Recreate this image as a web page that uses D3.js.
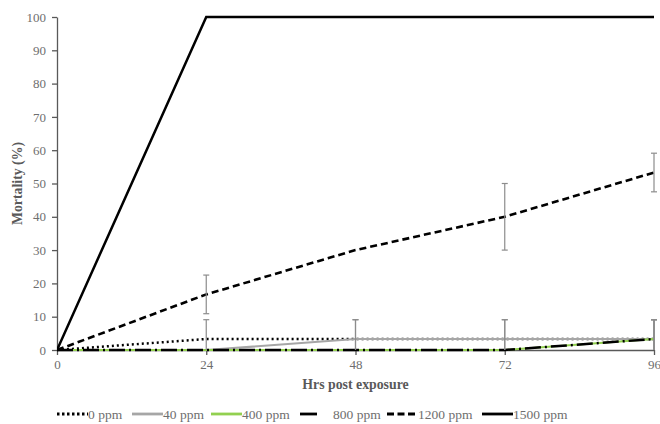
<!DOCTYPE html>
<html>
  <head>
    <meta charset="utf-8">
    <script src="https://d3js.org/d3.v7.min.js"></script>
    <style>
        body { margin:0; background:#fff; }
        svg { display:block; }
    </style>
  </head>
  <body>
    <script>
      // data
      var hours = [0, 24, 48, 72, 96];
      var yTicks = [0, 10, 20, 30, 40, 50, 60, 70, 80, 90, 100];
      var seriesNames = ["0 ppm", "40 ppm", "400 ppm", "800 ppm", "1200 ppm", "1500 ppm"];
      var ppm0    = [0, 3.3, 3.3, 3.3, 3.3];
      var ppm40   = [0, 0, 3.3, 3.3, 3.3];
      var ppm400  = [0, 0, 0, 0, 3.3];
      var ppm800  = [0, 0, 0, 0, 3.3];
      var ppm1200 = [0, 16.7, 30, 40, 53.3];
      var ppm1500 = [0, 100, 100, 100, 100];
      var err0    = [0, 5.8, 5.8, 5.8, 5.8];
      var err40   = [0, 0, 5.8, 5.8, 5.8];
      var err400  = [0, 0, 0, 0, 5.8];
      var err800  = [0, 0, 0, 0, 5.8];
      var err1200 = [0, 5.8, 0, 10, 5.8];
      var err1500 = [0, 0, 0, 0, 0];

      var width = 660, height = 424;
      var margin = {top: 17, right: 6, bottom: 74, left: 57};
      var serif = "Liberation Serif";

      var styles = [
        {color: "#000", w: 2.5, dash: "2,3"},
        {color: "#a6a6a6", w: 2.2, dash: null},
        {color: "#92d050", w: 2.2, dash: null},
        {color: "#000", w: 2.5, dash: "16,4,2,4"},
        {color: "#000", w: 2.6, dash: "7,4"},
        {color: "#000", w: 2.5, dash: null}
      ];
      var values = [ppm0, ppm40, ppm400, ppm800, ppm1200, ppm1500];
      var errors = [err0, err40, err400, err800, err1200, err1500];

      var series = seriesNames.map(function(n, i) {
        return {name: n, style: styles[i], pts: hours.map(function(h, j) {
          return {h: h, v: values[i][j], e: errors[i][j]};
        })};
      });

      var svg = d3.select("body").append("svg")
          .attr("width", width).attr("height", height);

      var x = d3.scaleLinear().domain([0, 96]).range([margin.left, width - margin.right]);
      var y = d3.scaleLinear().domain([0, 100]).range([height - margin.bottom, margin.top]);

      // y axis
      var yAxis = svg.append("g")
          .attr("transform", "translate(" + margin.left + ",0)")
          .call(d3.axisLeft(y).tickValues(yTicks).tickSize(5).tickSizeOuter(0).tickPadding(6));
      // x axis
      var xAxis = svg.append("g")
          .attr("transform", "translate(0," + y(0) + ")")
          .call(d3.axisBottom(x).tickValues(hours).tickSize(5).tickSizeOuter(0).tickPadding(5));

      [yAxis, xAxis].forEach(function(a) {
        a.selectAll("path, line").attr("stroke", "#595959").attr("stroke-width", 1.3);
        a.selectAll("text").attr("fill", "#6e6e6e")
          .style("font-family", serif).style("font-size", "13px");
      });

      svg.append("clipPath").attr("id", "clip").append("rect")
          .attr("x", margin.left).attr("y", margin.top - 3)
          .attr("width", width - margin.left - margin.right + 3)
          .attr("height", y(0) - margin.top + 6);

      var line = d3.line().x(function(d) { return x(d.h); }).y(function(d) { return y(d.v); });

      var drawOrder = [5, 4, 0, 1, 2, 3];
      var plot = svg.append("g").attr("clip-path", "url(#clip)");
      drawOrder.forEach(function(i) {
        var s = series[i];
        plot.append("path")
            .datum(s.pts)
            .attr("d", line)
            .attr("fill", "none")
            .attr("stroke", s.style.color)
            .attr("stroke-width", s.style.w)
            .attr("stroke-dasharray", s.style.dash);
      });

      // error bars
      var bars = [];
      series.forEach(function(s) {
        s.pts.forEach(function(p) { if (p.e > 0) bars.push(p); });
      });
      var eb = plot.append("g").attr("stroke", "#8c8c8c").attr("stroke-width", 1.2);
      eb.selectAll(".stem").data(bars).enter().append("line")
          .attr("x1", function(d) { return x(d.h); })
          .attr("x2", function(d) { return x(d.h); })
          .attr("y1", function(d) { return y(Math.max(0, d.v - d.e)); })
          .attr("y2", function(d) { return y(d.v + d.e); });
      eb.selectAll(".capTop").data(bars).enter().append("line")
          .attr("x1", function(d) { return x(d.h) - 3; })
          .attr("x2", function(d) { return x(d.h) + 3; })
          .attr("y1", function(d) { return y(d.v + d.e); })
          .attr("y2", function(d) { return y(d.v + d.e); });
      eb.selectAll(".capBot").data(bars.filter(function(d) { return d.v - d.e > 0; })).enter().append("line")
          .attr("x1", function(d) { return x(d.h) - 3; })
          .attr("x2", function(d) { return x(d.h) + 3; })
          .attr("y1", function(d) { return y(d.v - d.e); })
          .attr("y2", function(d) { return y(d.v - d.e); });

      // axis titles
      svg.append("text")
          .attr("x", (x(0) + x(96)) / 2).attr("y", 389)
          .attr("text-anchor", "middle")
          .style("font-family", serif).style("font-size", "13.8px").style("font-weight", "bold")
          .attr("fill", "#595959")
          .text("Hrs post exposure");
      svg.append("text")
          .attr("transform", "translate(22," + ((y(0) + y(100)) / 2) + ") rotate(-90)")
          .attr("text-anchor", "middle")
          .style("font-family", serif).style("font-size", "13.8px").style("font-weight", "bold")
          .attr("fill", "#595959")
          .text("Mortality (%)");

      // legend
      var legendX = [57, 132, 211, 300, 387, 482];
      var lg = svg.append("g").attr("transform", "translate(0,419)");
      series.forEach(function(s, i) {
        var g = lg.append("g").attr("transform", "translate(" + legendX[i] + ",0)");
        g.append("line")
            .attr("x1", 0).attr("x2", i === 3 ? 17 : 31).attr("y1", -5).attr("y2", -5)
            .attr("stroke", s.style.color)
            .attr("stroke-width", 2.8)
            .attr("stroke-dasharray", i === 3 ? null : (i === 0 ? "2.5,2.5" : (i === 4 ? "7,3.5" : null)));
        g.append("text")
            .attr("x", i === 3 ? 33 : 31).attr("y", 0)
            .style("font-family", serif).style("font-size", "13.5px")
            .attr("fill", "#6e6e6e")
            .text(s.name);
      });
    </script>
  </body>
</html>
